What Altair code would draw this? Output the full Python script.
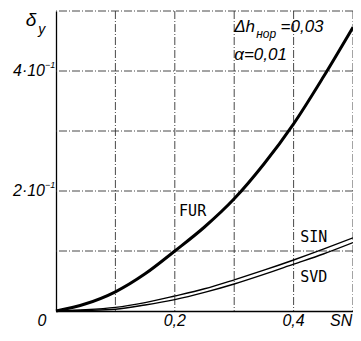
import altair as alt
import pandas as pd

x_vals = [0, 0.05, 0.1, 0.15, 0.2, 0.25, 0.3, 0.35, 0.4, 0.45, 0.5]
fur = [0, 0.012, 0.032, 0.062, 0.100, 0.140, 0.187, 0.245, 0.312, 0.390, 0.473]
sin = [0, 0.002, 0.006, 0.014, 0.025, 0.037, 0.052, 0.068, 0.085, 0.103, 0.122]
svd = [0, 0.001, 0.003, 0.010, 0.019, 0.031, 0.045, 0.061, 0.078, 0.095, 0.114]

grid_x = [0.1, 0.2, 0.3, 0.4, 0.5]
grid_y = [0.1, 0.2, 0.3, 0.4, 0.5]

y_tick_vals = [0.4, 0.2]
y_tick_main = ["4·10", "2·10"]
y_tick_exp = ["−1", "−1"]
x_tick_vals = [-0.0236, 0.2, 0.4, 0.48]
x_tick_labels = ["0", "0,2", "0,4", "SN"]

IT = "Liberation Sans"

xs = alt.Scale(domain=[0, 0.5], nice=False, zero=False)
ys = alt.Scale(domain=[0, 0.5], nice=False, zero=False)

rows = []
for name, vals in [("FUR", fur), ("SIN", sin), ("SVD", svd)]:
    for x, y in zip(x_vals, vals):
        rows.append({"x": x, "y": y, "s": name})
df = pd.DataFrame(rows)

ax = alt.Axis(labels=False, ticks=False, grid=False, domain=True,
              domainColor="black", domainWidth=1.3, title=None)

gx = alt.Chart(pd.DataFrame({"x": grid_x})).mark_rule(
    color="#333", strokeWidth=0.9, strokeDash=[8, 2, 1, 2]
).encode(x=alt.X("x:Q", scale=xs, axis=ax))
gy = alt.Chart(pd.DataFrame({"y": grid_y})).mark_rule(
    color="#333", strokeWidth=0.9, strokeDash=[8, 2, 1, 2]
).encode(y=alt.Y("y:Q", scale=ys, axis=ax))

fur_line = alt.Chart(df[df.s == "FUR"]).mark_line(
    color="black", strokeWidth=3, interpolate="monotone"
).encode(x=alt.X("x:Q", scale=xs), y=alt.Y("y:Q", scale=ys))
thin = alt.Chart(df[df.s != "FUR"]).mark_line(
    color="black", strokeWidth=1.4, interpolate="monotone"
).encode(x=alt.X("x:Q", scale=xs), y=alt.Y("y:Q", scale=ys), detail="s:N")


def texts(d, size, font=IT, **kw):
    return alt.Chart(pd.DataFrame(d)).mark_text(
        font=font, fontSize=size, color="black", **kw
    ).encode(x=alt.X("x:Q", scale=xs), y=alt.Y("y:Q", scale=ys), text="t:N")


curve_labels = texts({"x": [0.230, 0.434, 0.434], "y": [0.166, 0.124, 0.057],
                      "t": ["FUR", "SIN", "SVD"]}, 15, font="DejaVu Sans Mono")

ytl = texts({"x": [-0.0185] * 2, "y": y_tick_vals, "t": y_tick_main}, 16,
            align="right", fontStyle="italic")
yexp = texts({"x": [-0.0185] * 2, "y": y_tick_vals, "t": y_tick_exp}, 9,
             align="left", fontStyle="italic", dy=-6)
xtl = texts({"x": x_tick_vals, "y": [-0.0167] * 4, "t": x_tick_labels}, 16,
            align="center", fontStyle="italic")
ytitle = texts({"x": [-0.042], "y": [0.485], "t": ["δ"]}, 19, align="center",
               fontStyle="italic")
ysub = texts({"x": [-0.024], "y": [0.468], "t": ["y"]}, 14, align="center",
             fontStyle="italic")

ann_main = texts({"x": [0.300, 0.378, 0.300], "y": [0.473, 0.473, 0.426],
                  "t": ["Δh", "=0,03", "α=0,01"]}, 17, align="left",
                 fontStyle="italic")
ann_sub = texts({"x": [0.337], "y": [0.462], "t": ["нор"]}, 12, align="left",
                fontStyle="italic")

chart = alt.layer(gx, gy, fur_line, thin, curve_labels, ytl, yexp, xtl,
                  ytitle, ysub, ann_main, ann_sub).properties(
    width=297, height=300,
    autosize=alt.AutoSizeParams(type="none"),
    padding={"left": 48, "top": 3, "right": 0, "bottom": 21},
    background="white",
).configure_view(stroke=None)

chart.save("out.html", embed_options={"renderer": "svg", "actions": False})
